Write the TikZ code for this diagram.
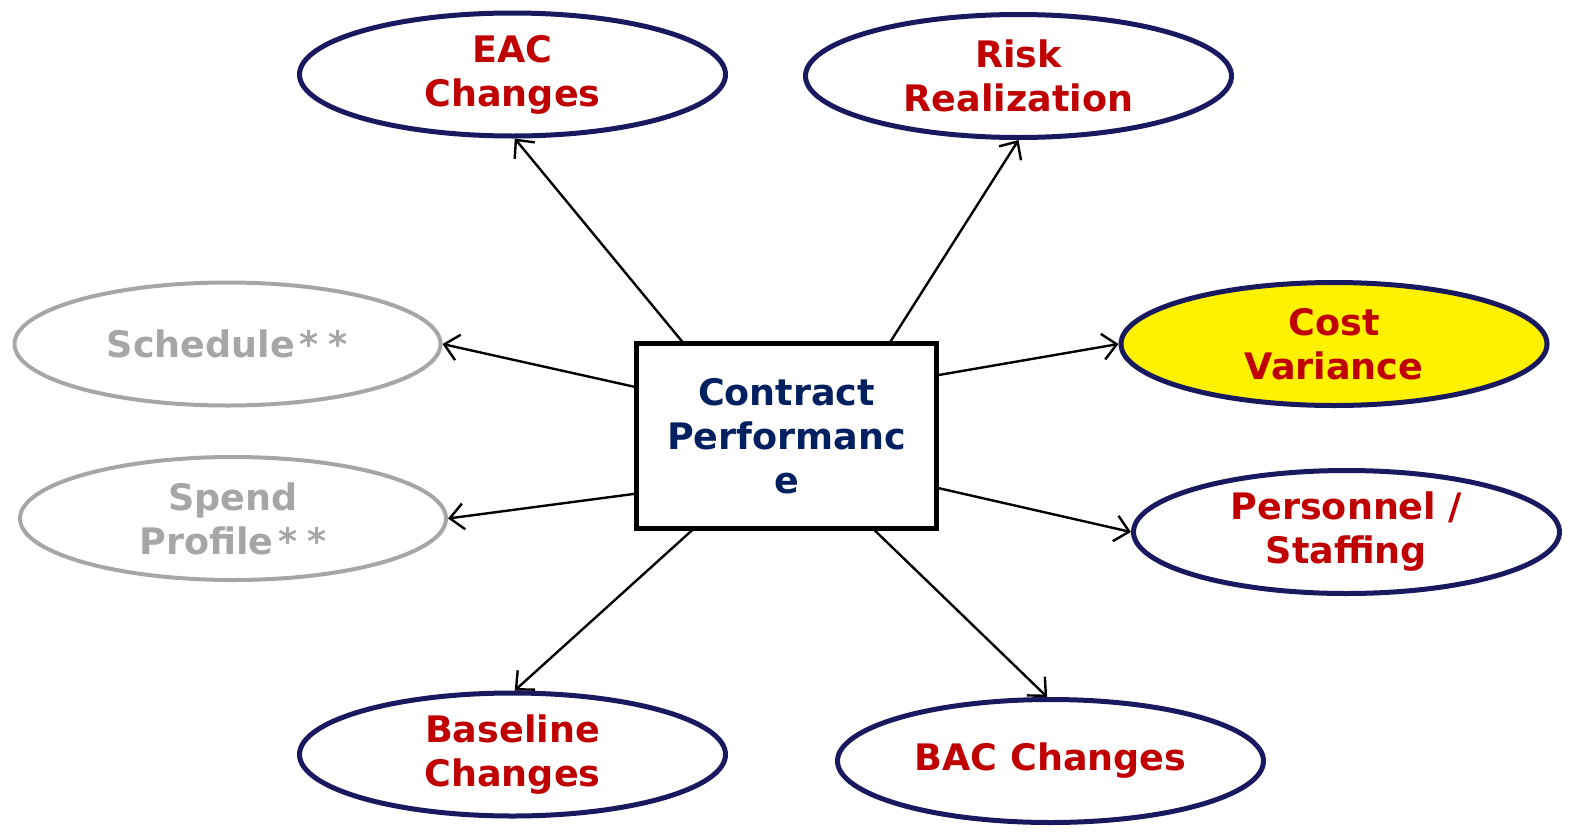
\documentclass[tikz,border=0pt]{standalone}
\usepackage{fontspec}
\setmainfont{DejaVu Sans}
\usetikzlibrary{shapes.geometric,arrows.meta}
\definecolor{navy}{RGB}{25,25,95}
\definecolor{redtxt}{RGB}{192,0,0}
\definecolor{boxtxt}{RGB}{0,32,96}
\definecolor{greyc}{RGB}{166,166,166}
\begin{document}
\begin{tikzpicture}[x=1pt,y=-1pt,
  oval/.style={ellipse,draw=navy,line width=5pt,fill=white,minimum width=426pt,minimum height=123pt,inner sep=0pt,
    font=\bfseries\fontsize{36.5}{44}\selectfont,text=redtxt,align=center},
  greyoval/.style={oval,draw=greyc,line width=4pt,text=greyc},
  centrebox/.style={rectangle,draw=black,line width=5pt,fill=white,minimum width=300pt,minimum height=185pt,inner sep=0pt,outer sep=0pt,
    font=\bfseries\fontsize{36.5}{44}\selectfont,text=boxtxt,align=center},
  link/.style={line width=2.4pt,-{Straight Barb[length=14pt,width=26pt,line width=2.4pt]}}]
\useasboundingbox (0,0) rectangle (1587,833);
\fill[white] (0,0) rectangle (1587,833);
\node[oval] (eac) at (512.5,74.5) {EAC\\Changes};
\node[oval] (risk) at (1018.5,76) {Risk\\Realization};
\node[greyoval] (sched) at (227.5,344) {Schedule\kern5pt*\kern10pt*};
\node[greyoval] (spend) at (233,518.5) {Spend\\Profile\kern5pt*\kern10pt*};
\node[oval,fill=yellow] (cost) at (1334,344) {Cost\\Variance};
\node[oval] (pers) at (1346.5,532) {Personnel /\\Staffing};
\node[oval] (base) at (512.5,754.5) {Baseline\\Changes};
\node[oval] (bac) at (1050.5,761) {BAC Changes};
\node[centrebox] (cp) at (786.5,436) {Contract\\Performanc\\e};
\draw[link] (cp.138.8) -- (eac.-88.7);
\draw[link] (cp.42) -- (risk.-90);
\draw[link] (cp.162.6) -- (sched.east);
\draw[link] (cp.-159.9) -- (spend.east);
\draw[link] (cp.22.8) -- (cost.west);
\draw[link] (cp.-19.5) -- (pers.west);
\draw[link] (cp.-135.5) -- (base.88.7);
\draw[link] (cp.-47.4) -- (bac.93);
\end{tikzpicture}
\end{document}
